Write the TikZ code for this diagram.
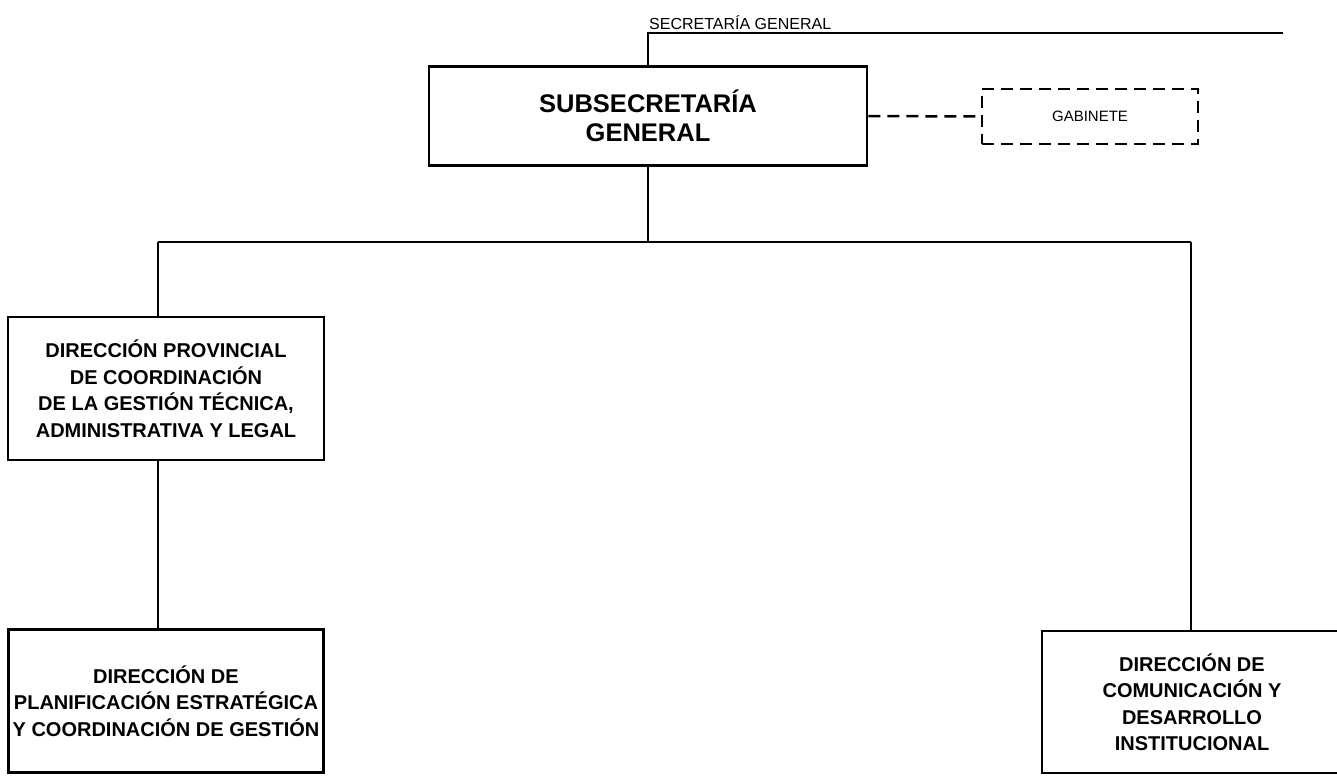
\documentclass[tikz,border=0pt]{standalone}
\usepackage{fontspec}
\setmainfont{Liberation Sans}
\usepackage{tikz}
\usetikzlibrary{positioning}
\tikzstyle{chart} = [x = 1pt, y = -1pt]
\tikzstyle{lineStyle} = [color=black, line width=1.3pt]
\tikzstyle{unitStyle} = [draw=black, line width=2.5pt, align=center, inner sep=0pt]
\tikzstyle{unitText} = [font=\bfseries\fontsize{20}{26.5}\selectfont]
\tikzstyle{headText} = [font=\bfseries\fontsize{25.5}{29}\selectfont]
\tikzstyle{gabineteStyle} = [draw=black, line width=2.5pt, dash pattern=on 12pt off 7pt, align=center, inner sep=0pt, font=\fontsize{15}{18}\selectfont]
\tikzstyle{dashedLink} = [line width=2.5pt, dash pattern=on 12pt off 7pt]
\begin{document}
\begin{tikzpicture}[chart]
    \useasboundingbox (0,0) rectangle (1337,779);
    \clip (0,0) rectangle (1337,779);
    % units
    \node [unitStyle, headText, minimum width=438, minimum height=99] (subsecretaria) at (648,116) {SUBSECRETARÍA\\GENERAL};
    \node [gabineteStyle, minimum width=216, minimum height=55] (gabinete) at (1090,116.5) {GABINETE};
    \node [unitStyle, unitText, minimum width=316, minimum height=143] (provincial) at (166,388.5) {DIRECCIÓN PROVINCIAL\\DE COORDINACIÓN\\DE LA GESTIÓN TÉCNICA,\\ADMINISTRATIVA Y LEGAL};
    \node [unitStyle, unitText, minimum width=315, minimum height=143] (planificacion) at (166,701) {DIRECCIÓN DE\\PLANIFICACIÓN ESTRATÉGICA\\Y COORDINACIÓN DE GESTIÓN};
    % right unit runs past the page edge
    \node [unitStyle, unitText, minimum width=320, minimum height=142] (comunicacion) at (1202,702) {\parbox{300pt}{\centering DIRECCIÓN DE\\COMUNICACIÓN Y\\DESARROLLO\\INSTITUCIONAL}\hspace*{20pt}};
    \node [anchor=base west, inner sep=0pt, font=\fontsize{16}{19}\selectfont] (secretaria) at (649,29) {SECRETARÍA GENERAL};
    % connectors
    \coordinate (sgEnd) at (1283,33);
    \coordinate (busLeft) at (158,242);
    \coordinate (busRight) at (1191,242);
    \draw [lineStyle] (subsecretaria.north) |- (sgEnd);
    \draw [dashedLink] (subsecretaria.east) -- (gabinete.west);
    \draw [lineStyle] (subsecretaria.south) -- (subsecretaria.south |- busLeft);
    \draw [lineStyle] (busLeft) -- (busRight);
    \draw [lineStyle] (busLeft) -- (busLeft |- provincial.north);
    \draw [lineStyle] (busRight) -- (busRight |- comunicacion.north);
    \draw [lineStyle] (provincial.south -| busLeft) -- (busLeft |- planificacion.north);
\end{tikzpicture}
\end{document}
